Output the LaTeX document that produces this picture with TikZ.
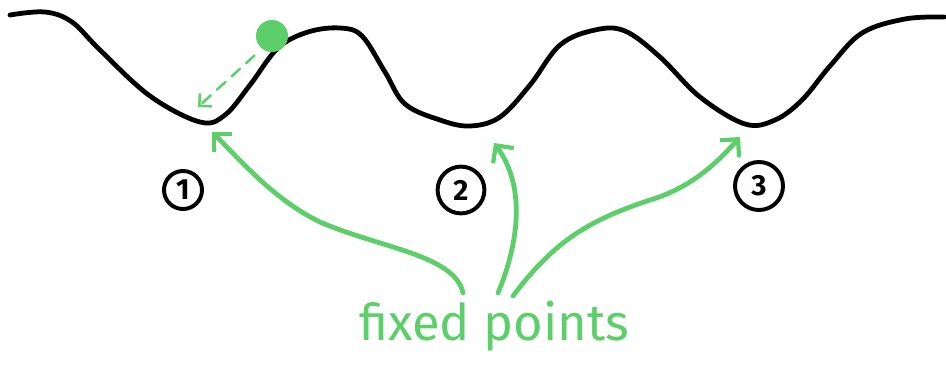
\documentclass[tikz,border=0pt]{standalone}
\usepackage{fontspec}
\setsansfont{Fira Sans}
\usetikzlibrary{arrows.meta,positioning}
\definecolor{ballgreen}{RGB}{92, 206, 106}

\tikzset{
    landscape/.style={line width=3.4pt, line cap=round, line join=round},
    numcirc/.style={circle, draw, line width=2.8pt, inner sep=0pt, font=\sffamily\bfseries\huge},
    fparrow/.style={draw=ballgreen, line width=3.4pt, line cap=round,
        -{Straight Barb[length=3.2mm, width=6.4mm, line width=3pt]}},
}

\begin{document}
\begin{tikzpicture}[x=0.025cm, y=-0.025cm]
        \useasboundingbox (0,0) rectangle (946,369);

        % Potential landscape
        \draw[landscape] plot[smooth, tension=0.6] coordinates {
            (10,15) (45,12) (72,22) (100,50) (150,96) (200,122) (225,115)
            (250,85) (278,48) (308,32) (340,28) (362,36) (385,72) (405,104)
            (440,120) (470,126) (500,117) (530,85) (560,45) (595,30) (625,31)
            (660,57) (700,97) (745,124) (775,120) (802,100) (830,66) (862,33)
            (905,19) (944,17)};

        % Minima
        \coordinate (m1) at (212,132);
        \coordinate (m2) at (494,143);
        \coordinate (m3) at (740,137);

        % Ball rolling down
        \node[circle, fill=ballgreen, minimum size=0.8cm, inner sep=0pt] (ball) at (272,36) {};
        \coordinate (land) at (198,107);
        \draw[ballgreen, line width=1.8pt, line cap=round, dash pattern=on 8pt off 6pt,
            -{Straight Barb[length=2.2mm, width=4.4mm, line width=1.8pt]}]
            (ball.south west) ++(-6,8) -- (land);

        % Numbered minima
        \node[numcirc, minimum size=0.95cm] (n1) at (183,190) {1};
        \node[numcirc, minimum size=1.17cm] (n2) at (461,190) {2};
        \node[numcirc, minimum size=1.2cm] (n3) at (759,186) {3};

        % Label
        \node[text=ballgreen, font=\sffamily\fontsize{36}{40}\selectfont] (fp) at (494,326) {fixed points};

        \coordinate (s1) at (463,293);
        \coordinate (s2) at (498,293);
        \coordinate (s3) at (513,296);

        % Arrows to the fixed points
        \draw[fparrow] (s1) .. controls (455,255) and (380,248) .. (320,222)
            .. controls (275,200) and (245,165) .. (m1);
        \draw[fparrow] (s2) .. controls (520,240) and (525,185) .. (m2);
        \draw[fparrow] (s3) .. controls (555,240) and (590,220) .. (650,200)
            .. controls (690,188) and (715,165) .. (m3);
    \end{tikzpicture}
\end{document}
